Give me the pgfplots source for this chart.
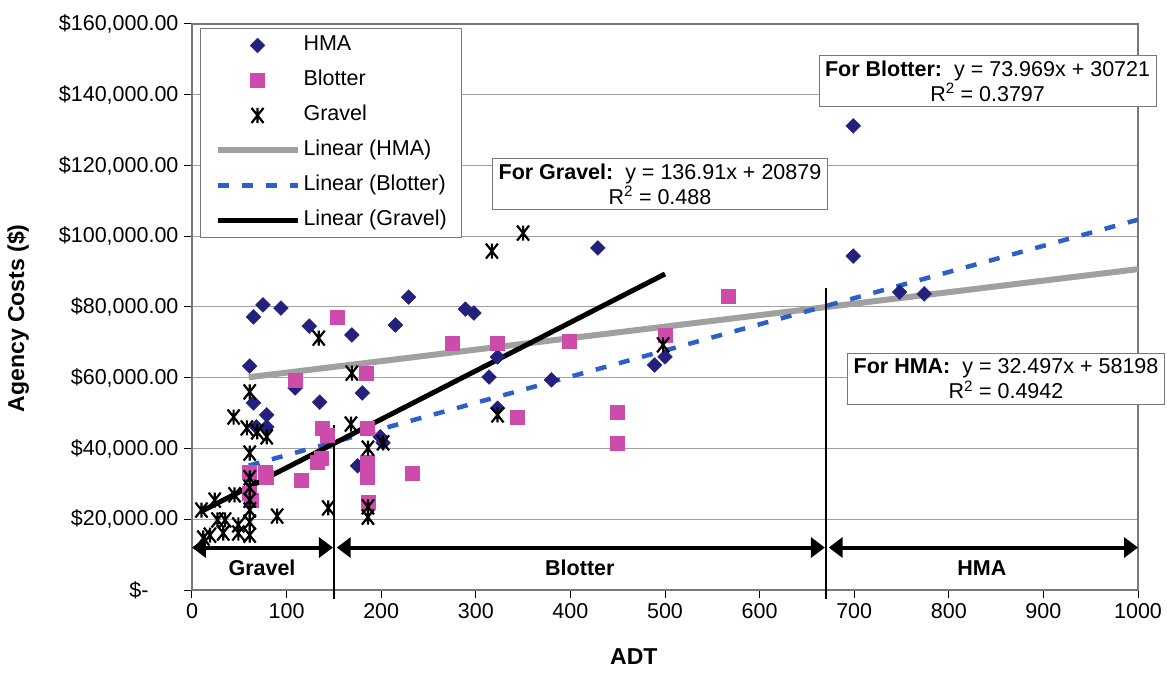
\documentclass[border=0pt]{standalone}
\usepackage{fontspec}
\setmainfont{Liberation Sans}
\usepackage{pgfplots}
\pgfplotsset{compat=1.18}
\usetikzlibrary{arrows.meta}

\definecolor{hmablue}{RGB}{36,32,125}
\definecolor{blotpink}{RGB}{205,75,170}
\definecolor{trendgray}{RGB}{160,160,160}
\definecolor{dashblue}{RGB}{45,95,200}
\definecolor{gridgray}{RGB}{160,160,160}
\definecolor{framegray}{RGB}{120,120,120}

\pgfdeclareplotmark{xstar}{%
  \pgfpathmoveto{\pgfqpoint{-0.8\pgfplotmarksize}{-\pgfplotmarksize}}%
  \pgfpathlineto{\pgfqpoint{0.8\pgfplotmarksize}{\pgfplotmarksize}}%
  \pgfpathmoveto{\pgfqpoint{-0.8\pgfplotmarksize}{\pgfplotmarksize}}%
  \pgfpathlineto{\pgfqpoint{0.8\pgfplotmarksize}{-\pgfplotmarksize}}%
  \pgfpathmoveto{\pgfqpoint{0pt}{-\pgfplotmarksize}}%
  \pgfpathlineto{\pgfqpoint{0pt}{\pgfplotmarksize}}%
  \pgfusepathqstroke}

\pgfplotsset{
  marklegend/.style={legend image code/.code={\draw[##1] plot coordinates {(40pt,0pt)};}},
  linelegend/.style={legend image code/.code={\draw[##1] (0pt,0pt) -- (80pt,0pt);}},
}

\begin{document}
\begin{tikzpicture}[font=\fontsize{21.5}{25}\selectfont]
\useasboundingbox (-192pt,-87pt) rectangle (975pt,590pt);
\begin{axis}[
  scale only axis, width=946pt, height=566pt,
  xmin=0, xmax=1000, ymin=0, ymax=160000,
  clip=false,
  axis line style={framegray, line width=2.5pt},
  xtick={0,100,...,1000},
  xticklabels={0,100,200,300,400,500,600,700,800,900,1000},
  ytick={0,20000,40000,60000,80000,100000,120000,140000,160000},
  yticklabels={\$-\phantom{.00},{\$20,000.00},{\$40,000.00},{\$60,000.00},{\$80,000.00},{\$100,000.00},{\$120,000.00},{\$140,000.00},{\$160,000.00}},
  scaled ticks=false,
  xtick pos=left, ytick pos=left,
  tick align=outside, major tick length=8pt,
  tick style={black, line width=1pt},
  ymajorgrids, grid style={gridgray, line width=1pt},
  xticklabel style={yshift=-2pt},
  yticklabel style={xshift=-2pt},
  xlabel={\bfseries\fontsize{23}{27}\selectfont ADT},
  ylabel={\bfseries\fontsize{23}{27}\selectfont Agency Costs (\$)},
  every axis x label/.style={at={(axis description cs:0.467,-0.118)}, anchor=center},
  every axis y label/.style={at={(axis description cs:-0.184,0.48)}, rotate=90, anchor=center},
  legend style={at={(axis description cs:0.0085,0.993)}, anchor=north west,
    draw=framegray, line width=1pt, fill=white, inner xsep=14pt, inner ysep=6pt,
    row sep=13pt, column sep=2pt,
    nodes={inner sep=1pt, text height=15pt, text depth=5pt}},
  legend cell align=left,
]
% HMA
\addplot[only marks, mark=square*, mark size=5.2pt, mark options={rotate=45, fill=hmablue, draw=hmablue, line width=0.5pt}, marklegend]
coordinates {
(65,77200) (75,80600) (94,79700) (124,74600) (169,72100) (61,63300) (109,57100)
(135,53100) (180,55700) (65,52900) (79,49500) (68,46100) (79,46100) (199,43300)
(202,41600) (215,74900) (229,82800) (289,79400) (298,78300) (323,65900) (314,60200)
(380,59400) (489,63600) (500,65900) (429,96700) (323,51400) (175,35100)
(699,131200) (699,94400) (748,84200) (774,83700)
};
\addlegendentry{HMA}
% Blotter
\addplot[only marks, mark=square*, mark size=7pt, mark options={fill=blotpink, draw=blotpink, line width=0.5pt}, marklegend]
coordinates {
(154,77200) (184,61300) (109,59400) (138,45800) (143,43800) (185,45800) (132,36200)
(116,31100) (185,36200) (185,31900) (186,24900) (233,33100) (275,69800) (323,69800)
(399,70400) (500,72100) (449,50300) (449,41600) (344,48900) (567,83100) (61,33400)
(77,33400) (79,32000) (61,27400) (63,25400) (137,37200)
};
\addlegendentry{Blotter}
% Gravel
\addplot[only marks, mark=xstar, mark size=7.5pt, mark options={draw=black, line width=2.2pt}, marklegend]
coordinates {
(134,71200) (169,61300) (61,56000) (44,48900) (58,45800) (69,44700) (79,43300)
(61,38700) (168,46900) (186,40100) (202,41600) (61,31700) (90,20900) (144,23200)
(186,23500) (186,20600) (10,22600) (24,25400) (45,26900) (61,25400) (61,22600)
(27,19800) (35,19800) (49,18400) (61,19200) (19,15500) (12,14700) (33,16100)
(49,16100) (61,15500) (317,95800) (350,100900) (323,49500) (498,69300) (61,29000)
};
\addlegendentry{Gravel}
% Trend lines
\addplot[trendgray, line width=6pt, no marks, linelegend]
coordinates {(60,60148) (1000,90695)};
\addlegendentry{Linear (HMA)}
\addplot[dashblue, line width=4.5pt, no marks, dash pattern=on 11pt off 13pt, linelegend]
coordinates {(60,35159) (1000,104690)};
\addlegendentry{Linear (Blotter)}
\addplot[black, line width=5pt, no marks, linelegend]
coordinates {(10,22248) (500,89334)};
\addlegendentry{Linear (Gravel)}

% region separators
\draw[black, line width=1.5pt] (axis cs:150,-2500) -- (axis cs:150,46600);
\draw[black, line width=1.5pt] (axis cs:670,-2500) -- (axis cs:670,85400);
% arrows
\draw[line width=4pt, {Triangle[length=14pt,width=20pt]}-{Triangle[length=14pt,width=20pt]}]
  (axis cs:0,12000) -- (axis cs:149,12000);
\draw[line width=4pt, {Triangle[length=14pt,width=20pt]}-{Triangle[length=14pt,width=20pt]}]
  (axis cs:153,12000) -- (axis cs:669,12000);
\draw[line width=4pt, {Triangle[length=14pt,width=20pt]}-{Triangle[length=14pt,width=20pt]}]
  (axis cs:673,12000) -- (axis cs:1000,12000);
\node[font=\bfseries\fontsize{21.5}{25}\selectfont] at (axis cs:74,6200) {Gravel};
\node[font=\bfseries\fontsize{21.5}{25}\selectfont] at (axis cs:410,6200) {Blotter};
\node[font=\bfseries\fontsize{21.5}{25}\selectfont] at (axis cs:835,6200) {HMA};

% equation boxes
\node[draw=framegray, line width=1pt, fill=white, align=center, inner xsep=6pt, inner ysep=5pt]
  at (axis cs:494.7,114800) {\textbf{For Gravel:}\ \ y = 136.91x + 20879\\R\textsuperscript{2} = 0.488};
\node[draw=framegray, line width=1pt, fill=white, align=center, inner xsep=6pt, inner ysep=5pt]
  at (axis cs:841,143900) {\textbf{For Blotter:}\ \ y = 73.969x + 30721\\R\textsuperscript{2} = 0.3797};
\node[draw=framegray, line width=1pt, fill=white, align=center, inner xsep=6pt, inner ysep=5pt]
  at (axis cs:860.5,59650) {\textbf{For HMA:}\ \ y = 32.497x + 58198\\R\textsuperscript{2} = 0.4942};
\end{axis}
\end{tikzpicture}
\end{document}
